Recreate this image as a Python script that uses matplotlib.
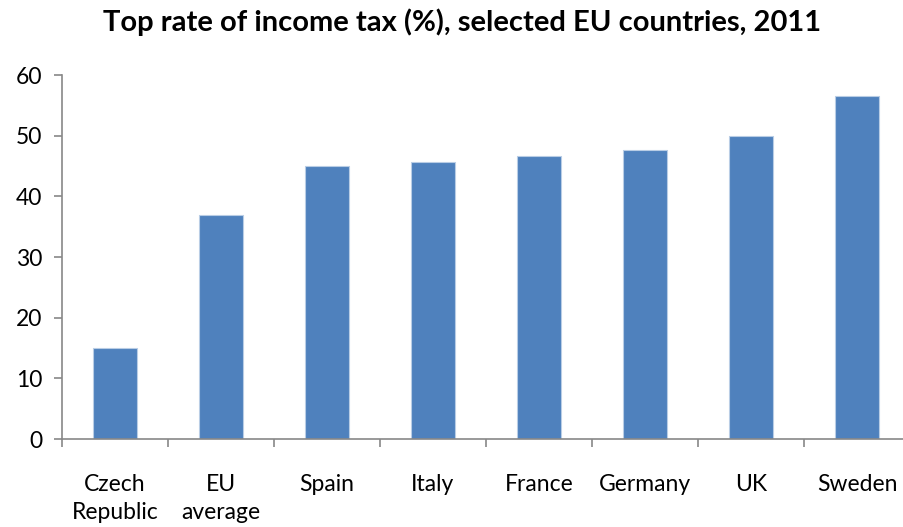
import matplotlib.pyplot as plt
import numpy as np

countries = ["Czech\nRepublic", "EU\naverage", "Spain", "Italy", "France", "Germany", "UK", "Sweden"]
top_rate = [15.0, 37.0, 45.0, 45.6, 46.6, 47.6, 50.0, 56.5]

plt.rcParams["font.family"] = ["Lato", "DejaVu Sans"]

fig = plt.figure(figsize=(9.04, 5.27), dpi=100)
ax = fig.add_axes([62 / 904, 1 - 439 / 527, 848 / 904, 364 / 527])

x = np.arange(len(countries))
ax.bar(x, top_rate, width=0.415, color="#4F81BD", edgecolor="#B9CDE5", linewidth=0.8, zorder=2)

ax.set_xlim(-0.5, len(countries) - 0.5)
ax.set_ylim(0, 60)
ax.set_yticks(range(0, 61, 10))
ax.tick_params(axis="y", labelsize=16.5, length=6, width=1.2, color="#888888", pad=8)

# category labels under bars, tick marks between categories
ax.set_xticks(x)
ax.set_xticklabels(countries, fontsize=16.5, linespacing=1.45)
ax.tick_params(axis="x", which="major", length=0, pad=25)
ax.set_xticks(np.arange(-0.5, len(countries), 1), minor=True)
ax.tick_params(axis="x", which="minor", length=6, width=1.2, color="#888888")
for lab in ax.get_xticklabels():
    lab.set_verticalalignment("top")

for side in ["top", "right"]:
    ax.spines[side].set_visible(False)
for side in ["left", "bottom"]:
    ax.spines[side].set_color("#888888")
    ax.spines[side].set_linewidth(1.2)

fig.text(462 / 904, 1 - 22 / 527, "Top rate of income tax (%), selected EU countries, 2011",
         ha="center", va="center", fontsize=21, fontweight="bold")

fig.savefig("out.png", dpi=100)
